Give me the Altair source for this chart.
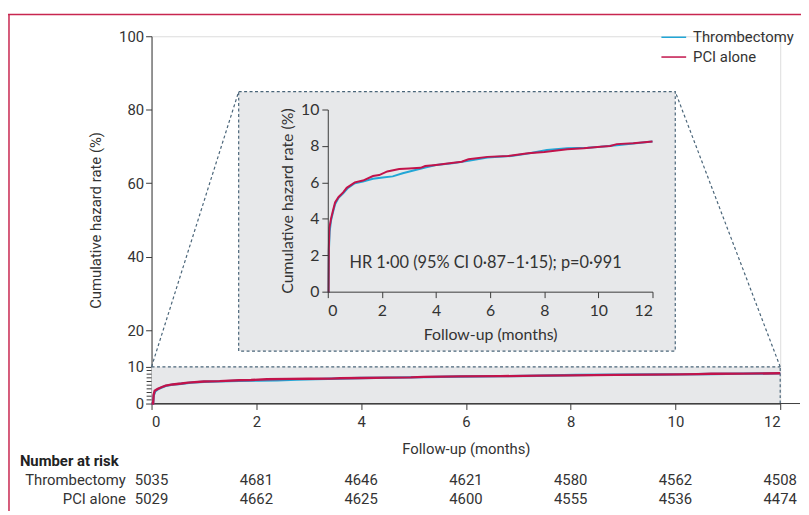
import altair as alt
import pandas as pd

# ---------------- data ----------------
series = ["Thrombectomy", "PCI alone"]
colors = ["#22a6d6", "#c2134b"]

thromb_t = [0, 0.03, 0.04, 0.07, 0.12, 0.2, 0.27, 0.4, 0.57, 0.75, 1.0, 1.3, 1.67, 2.03, 2.4, 2.77, 3.13,
            3.6, 4.0, 4.6, 5.2, 5.9, 6.78, 7.4, 8.1, 8.85, 9.6, 10.07, 10.68, 11.29, 12.0]
thromb_v = [0, 0, 2.2, 3.3, 3.9, 4.4, 4.8, 5.15, 5.4, 5.7, 5.95, 6.05, 6.2, 6.27, 6.33, 6.5, 6.64,
            6.82, 6.95, 7.05, 7.18, 7.36, 7.45, 7.58, 7.78, 7.87, 7.9, 7.95, 8.04, 8.13, 8.24]

pci_t = [0, 0.03, 0.04, 0.06, 0.12, 0.2, 0.27, 0.4, 0.57, 0.7, 1.0, 1.3, 1.67, 1.9, 2.2, 2.64, 3.0,
         3.43, 3.6, 4.0, 4.5, 4.95, 5.2, 5.9, 6.66, 7.4, 8.0, 8.85, 9.46, 10.07, 10.44, 10.68, 11.29, 12.0]
pci_v = [0, 0, 2.4, 3.5, 4.0, 4.5, 4.9, 5.2, 5.45, 5.7, 6.0, 6.1, 6.35, 6.4, 6.6, 6.73, 6.76,
         6.8, 6.9, 6.96, 7.05, 7.13, 7.27, 7.4, 7.45, 7.6, 7.67, 7.82, 7.87, 7.95, 8.0, 8.1, 8.15, 8.24]

risk_months = [0, 2, 4, 6, 8, 10, 12]
risk_thromb = [5035, 4681, 4646, 4621, 4580, 4562, 4508]
risk_pci = [5029, 4662, 4625, 4600, 4555, 4536, 4474]

main_x_ticks = [0, 2, 4, 6, 8, 10, 12]
main_y_ticks = [0, 10, 20, 40, 60, 80, 100]
minor_y_ticks = [1, 2, 3, 4, 5, 6, 7, 8, 9]
inset_y_ticks = [0, 2, 4, 6, 8, 10]

annotation = "HR 1·00 (95% CI 0·87–1·15); p=0·991"

# ---------------- tables ----------------
rows = []
for s, ts, vs in [(series[0], thromb_t, thromb_v), (series[1], pci_t, pci_v)]:
    for i, (t, v) in enumerate(zip(ts, vs)):
        rows.append({"series": s, "month": t, "rate": v, "i": i})
curves = pd.DataFrame(rows)
thromb_df = curves[curves.series == series[0]]
pci_df = curves[curves.series == series[1]]

risk_df = pd.DataFrame({"month": risk_months, "thromb": risk_thromb, "pci": risk_pci})

W, H = 635, 371
MAINFONT = "Roboto, sans-serif"
INFONT = "Lato, Open Sans, sans-serif"
AX = "#3a3a3a"
TXT = "#333333"
DASH = "#4a6579"
GREY = "#e7e8ea"
FRAME = "#c8264f"

mx = alt.Scale(domain=[0, 12], nice=False, zero=False)
my = alt.Scale(domain=[0, 100], nice=False)

ix = alt.Scale(domain=[0, 12], nice=False, zero=False, range=[178, 506])
iy = alt.Scale(domain=[0, 10], nice=False, range=[258, 74])

main_xaxis = alt.Axis(values=main_x_ticks, tickSize=6, labelFontSize=15, labelPadding=5,
                      title="Follow-up (months)", titleFontSize=15, titlePadding=12,
                      titleFontWeight="normal", grid=False, domainColor=AX, tickColor=AX,
                      labelColor=TXT, titleColor=TXT, labelFont=MAINFONT, titleFont=MAINFONT)
main_yaxis = alt.Axis(values=main_y_ticks, tickSize=6, labelFontSize=15, labelPadding=2,
                      title="Cumulative hazard rate (%)", titleFontSize=15, titlePadding=15,
                      titleFontWeight="normal", grid=False, domainColor=AX, tickColor=AX,
                      labelColor=TXT, titleColor=TXT, labelFont=MAINFONT, titleFont=MAINFONT)

one = pd.DataFrame({"x0": [0], "x1": [12], "y0": [0], "y1": [10]})
base1 = alt.Chart(one)

# frame
frame_top = base1.mark_rule(color=FRAME, strokeWidth=1.5).encode(
    x=alt.value(-145), x2=alt.value(W + 21), y=alt.value(-22))
frame_left = base1.mark_rule(color=FRAME, strokeWidth=1.5).encode(
    x=alt.value(-144), y=alt.value(-22), y2=alt.value(H + 110))

shade = base1.mark_rect(fill=GREY).encode(
    x=alt.X("x0:Q", scale=mx, axis=main_xaxis), x2="x1:Q",
    y=alt.Y("y0:Q", scale=my, axis=main_yaxis), y2="y1:Q")
dash_top = base1.mark_rule(color=DASH, strokeDash=[3, 2.5], strokeWidth=1.2).encode(
    x=alt.X("x0:Q", scale=mx), x2="x1:Q", y=alt.Y("y1:Q", scale=my))
dash_right = base1.mark_rule(color=DASH, strokeDash=[3, 2.5], strokeWidth=1.2).encode(
    x=alt.X("x1:Q", scale=mx), y=alt.Y("y0:Q", scale=my), y2="y1:Q")
conn_left = base1.mark_rule(color=DASH, strokeDash=[3, 2.5], strokeWidth=1.2).encode(
    x=alt.X("x0:Q", scale=mx), x2=alt.value(88), y=alt.Y("y1:Q", scale=my), y2=alt.value(56))
conn_right = base1.mark_rule(color=DASH, strokeDash=[3, 2.5], strokeWidth=1.2).encode(
    x=alt.X("x1:Q", scale=mx), x2=alt.value(529), y=alt.Y("y1:Q", scale=my), y2=alt.value(56))
axis_ext = base1.mark_rule(color=AX, strokeWidth=1).encode(
    x=alt.X("x0:Q", scale=mx), x2=alt.value(W + 20), y=alt.Y("y0:Q", scale=my))

minor = alt.Chart(pd.DataFrame({"v": minor_y_ticks})).mark_rule(color=AX, strokeWidth=1).encode(
    x=alt.value(-5), x2=alt.value(0), y=alt.Y("v:Q", scale=my))

def curve(df, col, sx, sy, sw):
    return alt.Chart(df).mark_line(color=col, strokeWidth=sw).encode(
        x=alt.X("month:Q", scale=sx), y=alt.Y("rate:Q", scale=sy), order="i:Q")

main_curves = [curve(thromb_df, colors[0], mx, my, 2.4), curve(pci_df, colors[1], mx, my, 2.4)]

risk_base = alt.Chart(risk_df)
risk_t = risk_base.mark_text(font=MAINFONT, fontSize=15, color=TXT, baseline="middle").encode(
    x=alt.X("month:Q", scale=mx), y=alt.value(448), text="thromb:Q")
risk_p = risk_base.mark_text(font=MAINFONT, fontSize=15, color=TXT, baseline="middle").encode(
    x=alt.X("month:Q", scale=mx), y=alt.value(467), text="pci:Q")

lab_df = pd.DataFrame({"label": ["Number at risk"] + series})
risk_head = alt.Chart(lab_df.iloc[[0]]).mark_text(font=MAINFONT, fontSize=15, fontWeight="bold",
                                                   color="#222", align="left", baseline="middle").encode(
    x=alt.value(-133), y=alt.value(429), text="label:N")
risk_l1 = alt.Chart(lab_df.iloc[[1]]).mark_text(font=MAINFONT, fontSize=15, color=TXT, align="right",
                                                 baseline="middle").encode(
    x=alt.value(-26), y=alt.value(448), text="label:N")
risk_l2 = alt.Chart(lab_df.iloc[[2]]).mark_text(font=MAINFONT, fontSize=15, color=TXT, align="right",
                                                 baseline="middle").encode(
    x=alt.value(-26), y=alt.value(467), text="label:N")

# legend
leg = []
for k, (s, c) in enumerate(zip(series, colors)):
    d = alt.Chart(pd.DataFrame({"label": [s]}))
    yy = 1 + 20 * k
    leg.append(d.mark_rule(color=c, strokeWidth=1.5).encode(
        x=alt.value(515), x2=alt.value(540), y=alt.value(yy)))
    leg.append(d.mark_text(font=MAINFONT, fontSize=15, color=TXT, align="left", baseline="middle").encode(
        x=alt.value(547), y=alt.value(yy), text="label:N"))

main_group = alt.layer(frame_top, frame_left, shade, dash_top, dash_right, conn_left, conn_right,
                       axis_ext, minor, *main_curves, risk_head, risk_l1, risk_l2, risk_t, risk_p, *leg)

# ---------------- inset ----------------
in_xaxis = alt.Axis(orient="bottom", offset=-113, zindex=1, values=main_x_ticks, tickSize=6, labelFontSize=16,
                    labelPadding=5, title="Follow-up (months)", titleFontSize=16, titlePadding=8,
                    titleFontWeight="normal", grid=False, domainColor=AX, tickColor=AX,
                    labelColor=TXT, titleColor=TXT, labelFont=INFONT, titleFont=INFONT)
in_yaxis = alt.Axis(orient="left", offset=-178, zindex=1, values=inset_y_ticks, tickSize=6, labelFontSize=16,
                    labelPadding=3, title="Cumulative hazard rate (%)", titleFontSize=16, titlePadding=5,
                    titleFontWeight="normal", grid=False, domainColor=AX, tickColor=AX,
                    labelColor=TXT, titleColor=TXT, labelFont=INFONT, titleFont=INFONT)

box = base1.mark_rect(fill=GREY, stroke=DASH, strokeDash=[3, 2.5], strokeWidth=1.2).encode(
    x=alt.value(88), x2=alt.value(529), y=alt.value(56), y2=alt.value(318))

in_t = alt.Chart(thromb_df).mark_line(color=colors[0], strokeWidth=2).encode(
    x=alt.X("month:Q", scale=ix, axis=in_xaxis), y=alt.Y("rate:Q", scale=iy, axis=in_yaxis), order="i:Q")
in_p = curve(pci_df, colors[1], ix, iy, 2)

ann = alt.Chart(pd.DataFrame({"m": [0.8], "r": [1.58], "t": [annotation]})).mark_text(
    font=INFONT, fontSize=16.5, color=TXT, align="left", baseline="middle").encode(
    x=alt.X("m:Q", scale=ix), y=alt.Y("r:Q", scale=iy), text="t:N")

inset_group = alt.layer(box, in_t, in_p, ann)

chart = alt.layer(main_group, inset_group).resolve_scale(x="independent", y="independent").properties(
    width=W, height=H,
    autosize=alt.AutoSizeParams(type="none"),
    padding={"left": 145, "top": 26, "right": 21, "bottom": 106},
).configure_view(stroke=None).configure(background="white")

chart.save("out.html", embed_options={"renderer": "svg", "actions": False})
